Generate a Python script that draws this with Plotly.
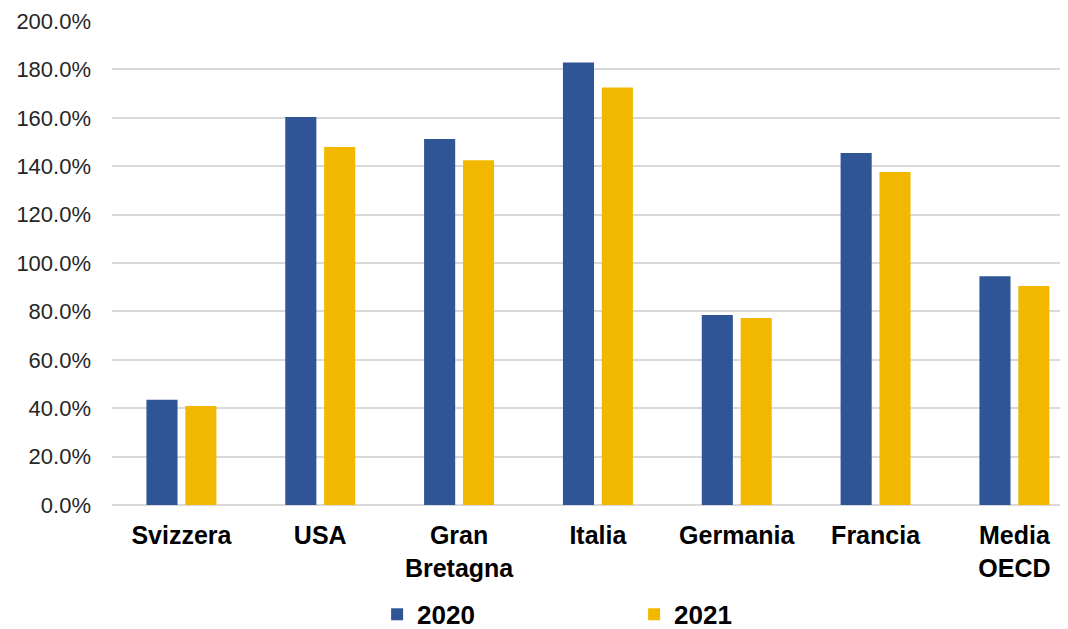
import plotly.graph_objects as go

categories = ["Svizzera", "USA", "Gran<br>Bretagna", "Italia", "Germania", "Francia", "Media<br>OECD"]
values_2020 = [43.5, 160.3, 151.2, 182.9, 78.5, 145.5, 94.5]
values_2021 = [40.9, 147.9, 142.5, 172.5, 77.3, 137.6, 90.5]
y_ticks = [0, 20, 40, 60, 80, 100, 120, 140, 160, 180, 200]

fig = go.Figure()
fig.add_trace(go.Bar(name="2020", x=categories, y=values_2020, marker_color="#2F5597",
                     marker_line_width=0))
fig.add_trace(go.Bar(name="2021", x=categories, y=values_2021, marker_color="#F2B800",
                     marker_line_width=0))

fig.update_layout(
    width=1060, height=621,
    paper_bgcolor="white", plot_bgcolor="white",
    margin=dict(l=104, r=5, t=13, b=124, autoexpand=False),
    barmode="group", bargap=0.44, bargroupgap=0.2,
    font=dict(family="Liberation Sans, Arial, sans-serif", color="#262626"),
    showlegend=True,
    legend=dict(orientation="h", x=0.549, xanchor="center", y=-0.226, yanchor="middle",
                font=dict(size=26, color="#000000", family="Liberation Sans, Arial, sans-serif", weight="bold"),
                entrywidth=212, itemsizing="constant", tracegroupgap=0),
)
fig.update_xaxes(range=[-0.5, 6.35], showgrid=False, showline=False, ticks="",
                 automargin=False, ticklabelstandoff=13,
                 tickfont=dict(size=25, color="#000000", weight="bold"))
fig.update_yaxes(range=[0, 200], tickvals=y_ticks,
                 ticktext=[f"{v:.1f}%" for v in y_ticks],
                 showgrid=True, gridcolor="#D9D9D9", gridwidth=2,
                 zeroline=True, zerolinecolor="#D9D9D9", zerolinewidth=2,
                 showline=False, ticks="", ticklabelstandoff=20, automargin=False,
                 tickfont=dict(size=22, color="#262626"))

fig.write_html("out.html")
